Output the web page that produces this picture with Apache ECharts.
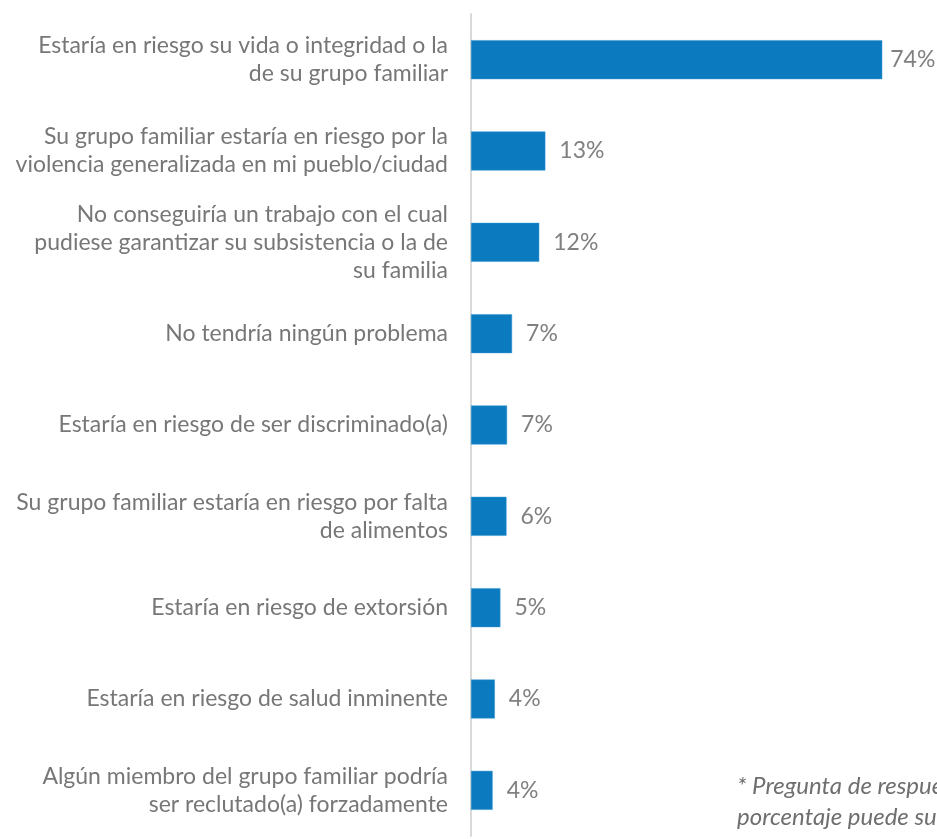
<!DOCTYPE html>
<html>
<head>
<meta charset="utf-8">
<script src="https://cdn.jsdelivr.net/npm/echarts@6/dist/echarts.min.js"></script>
<style>
  html, body { margin: 0; padding: 0; background: #ffffff; }
  #main { width: 937px; height: 839px; }
</style>
</head>
<body>
<div id="main"></div>
<script>
// categorías (de arriba hacia abajo)
const categories = [
  'Estaría en riesgo su vida o integridad o la\nde su grupo familiar',
  'Su grupo familiar estaría en riesgo por la\nviolencia generalizada en mi pueblo/ciudad',
  'No conseguiría un trabajo con el cual\npudiese garantizar su subsistencia o la de\nsu familia',
  'No tendría ningún problema',
  'Estaría en riesgo de ser discriminado(a)',
  'Su grupo familiar estaría en riesgo por falta\nde alimentos',
  'Estaría en riesgo de extorsión',
  'Estaría en riesgo de salud inminente',
  'Algún miembro del grupo familiar podría\nser reclutado(a) forzadamente'
];
// porcentajes
const values = [74.1, 13.4, 12.3, 7.4, 6.5, 6.4, 5.3, 4.3, 3.9];
const footnote = ['* Pregunta de respuesta múltiple, el', 'porcentaje puede sumar más de 100%'];

const chart = echarts.init(document.getElementById('main'));

const option = {
  animation: false,
  grid: { left: 471, right: 22, top: 14, bottom: 3 },
  xAxis: {
    type: 'value',
    min: 0,
    max: 80,
    show: false
  },
  yAxis: {
    type: 'category',
    inverse: true,
    data: categories,
    axisLine: { show: true, lineStyle: { color: '#d9d9d9', width: 2 } },
    axisTick: { show: false },
    axisLabel: {
      margin: 23,
      align: 'right',
      fontFamily: 'Lato',
      fontSize: 23,
      lineHeight: 28,
      color: '#777777'
    }
  },
  series: [{
    type: 'bar',
    barWidth: 39,
    data: values.map((v, i) => i === 0 ? { value: v, label: { distance: 8 } } : v),
    itemStyle: { color: '#0c7abf', borderColor: '#3a98d4', borderWidth: 0.5 },
    label: {
      show: true,
      position: 'right',
      distance: 14,
      fontFamily: 'Lato',
      fontSize: 23,
      color: '#808080',
      formatter: p => Math.round(p.value) + '%'
    }
  }],
  graphic: [{
    type: 'text',
    left: 737,
    top: 771,
    style: {
      text: footnote.join('\n'),
      fontFamily: 'Lato',
      fontStyle: 'italic',
      fontSize: 24,
      lineHeight: 31,
      fill: '#6f6f6f'
    }
  }]
};

chart.setOption(option);
</script>
</body>
</html>
